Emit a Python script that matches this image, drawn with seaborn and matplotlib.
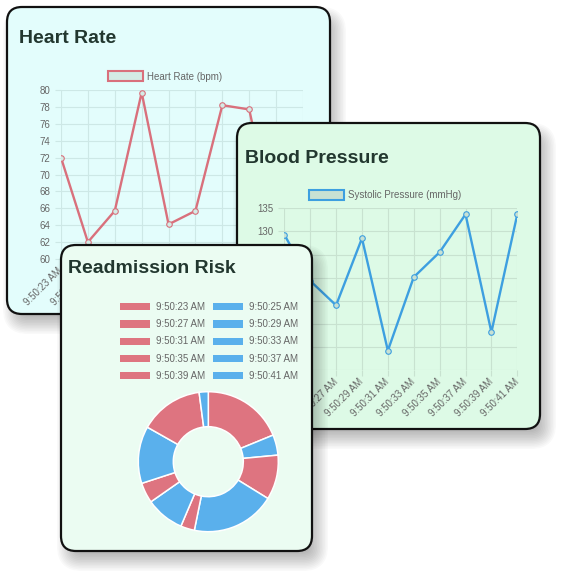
import matplotlib
matplotlib.use("Agg")
import matplotlib.pyplot as plt
import seaborn as sns
import pandas as pd
from matplotlib.patches import FancyBboxPatch, Patch
from matplotlib.transforms import Affine2D

# data
times = ["9:50:23 AM", "9:50:25 AM", "9:50:27 AM", "9:50:29 AM", "9:50:31 AM",
         "9:50:33 AM", "9:50:35 AM", "9:50:37 AM", "9:50:39 AM", "9:50:41 AM"]
heart_rate = [72.0, 62.0, 65.7, 79.7, 64.1, 65.7, 78.2, 77.7, 62.9, 70.0]
systolic = [129.3, 119.3, 114.0, 128.5, 104.2, 120.1, 125.5, 133.7, 108.2, 133.7]
risk = [18.8, 4.7, 10.3, 19.4, 3.2, 8.9, 4.7, 13.2, 14.7, 2.1]

hr_ticks = list(range(60, 81, 2))
bp_ticks = list(range(100, 136, 5))

# colours
RED = "#de7480"
BLUE = "#5ab0ec"
HR_LINE = "#d9707c"
HR_FILL = "#d4ebe5"
BP_LINE = "#3d9fe0"
BP_FILL = "#c8e1d3"
TITLE_C = "#22372f"
TEXT_C = "#666666"

W, H = 575, 586
sns.set_theme(style="white")
plt.rcParams["font.family"] = ["Liberation Sans", "DejaVu Sans"]

fig = plt.figure(figsize=(W / 100, H / 100), dpi=100)
fig.patch.set_facecolor("white")
pix = Affine2D().scale(1 / W, -1 / H).translate(0, 1) + fig.transFigure


def card(x0, y0, x1, y1, color, title, tx, ty, z):
    # soft drop shadow made of stacked rounded rects
    n, blur, dx, dy = 14, 20, 6, 10
    for k in range(n):
        e = blur * k / (n - 1) - blur / 2
        sh = FancyBboxPatch((x0 + dx - e, y0 + dy - e), x1 - x0 + 2 * e, y1 - y0 + 2 * e,
                            boxstyle=f"round,pad=0,rounding_size={max(2, 15 + e)}",
                            transform=pix, facecolor="black", edgecolor="none",
                            alpha=0.023, zorder=z)
        fig.add_artist(sh)
    p = FancyBboxPatch((x0, y0), x1 - x0, y1 - y0,
                       boxstyle="round,pad=0,rounding_size=15",
                       transform=pix, facecolor=color, edgecolor="#111111",
                       linewidth=1.6, zorder=z + 0.2)
    fig.add_artist(p)
    fig.text(tx / W, 1 - ty / H, title, fontsize=14, fontweight="bold",
             color=TITLE_C, va="baseline", ha="left", zorder=z + 0.4)


def add_axes(x0, y0, x1, y1, z):
    ax = fig.add_axes([x0 / W, 1 - y1 / H, (x1 - x0) / W, (y1 - y0) / H])
    ax.set_zorder(z)
    ax.patch.set_alpha(0)
    return ax


def style_line_axes(ax, ylim, yticks, grid_c):
    ax.set_xlim(0, len(times) - 1)
    ax.set_ylim(*ylim)
    ax.set_yticks(yticks)
    ax.set_xticks(range(len(times)))
    ax.set_xticklabels(times, rotation=45, ha="right", va="center",
                       rotation_mode="anchor")
    ax.grid(True, color=grid_c, lw=0.8, alpha=1)
    ax.set_axisbelow(True)
    for s in ax.spines.values():
        s.set_visible(False)
    ax.tick_params(bottom=True, left=True, length=4.5, width=0.8, color=grid_c,
                   labelsize=7, labelcolor=TEXT_C, pad=3)
    ax.set_xlabel("")
    ax.set_ylabel("")


def line_legend(ax, label, line, fill, cx, cy):
    ax.legend(handles=[Patch(facecolor=fill, edgecolor=line, lw=1.5, label=label)],
              loc="center", bbox_to_anchor=(cx / W, 1 - cy / H),
              bbox_transform=fig.transFigure, frameon=False, fontsize=7,
              labelcolor=TEXT_C, handlelength=3.6, handleheight=1.2,
              handletextpad=0.4, borderpad=0, borderaxespad=0)


# Heart Rate card
card(7, 7, 330, 314, "#e3fdfc", "Heart Rate", 19, 42.7, 1)
ax = add_axes(61, 90, 303, 259, 2)
df_hr = pd.DataFrame({"time": times, "bpm": heart_rate})
sns.lineplot(data=df_hr, x="time", y="bpm", ax=ax, sort=False, color=HR_LINE, lw=1.7,
             marker="o", markersize=4, markerfacecolor=HR_FILL,
             markeredgecolor=HR_LINE, markeredgewidth=0.8)
style_line_axes(ax, (60, 80), hr_ticks, "#cde8e6")
line_legend(ax, "Heart Rate (bpm)", HR_LINE, HR_FILL, 165, 76.5)

# Blood Pressure card
card(237, 123, 540, 429, "#ddfae6", "Blood Pressure", 245, 162.7, 3)
ax = add_axes(284.3, 208.3, 517.3, 370, 4)
df_bp = pd.DataFrame({"time": times, "mmHg": systolic})
sns.lineplot(data=df_bp, x="time", y="mmHg", ax=ax, sort=False, color=BP_LINE, lw=1.7,
             marker="o", markersize=4, markerfacecolor=BP_FILL,
             markeredgecolor=BP_LINE, markeredgewidth=0.8)
style_line_axes(ax, (100, 135), bp_ticks, "#c8e2d0")
line_legend(ax, "Systolic Pressure (mmHg)", BP_LINE, BP_FILL, 385.5, 195)

# Readmission Risk card
card(61, 245, 312, 551, "#ebfcf2", "Readmission Risk", 67.7, 273.3, 5)
ax = add_axes(138.3, 391.7, 278.3, 531.7, 6)
colors = [RED if i % 2 == 0 else BLUE for i in range(len(risk))]
wedges, _ = ax.pie(risk, colors=colors, startangle=90, counterclock=False, radius=1,
                   wedgeprops=dict(width=0.5, edgecolor="white", linewidth=1.1))
ax.set_xlim(-1, 1)
ax.set_ylim(-1, 1)
order = [0, 2, 4, 6, 8, 1, 3, 5, 7, 9]
handles = [Patch(facecolor=colors[i], edgecolor="none", label=times[i]) for i in order]
ax.legend(handles=handles, ncol=2, loc="center", bbox_to_anchor=(209 / W, 1 - 341.5 / H),
          bbox_transform=fig.transFigure, frameon=False, fontsize=7,
          labelcolor=TEXT_C, handlelength=3.1, handleheight=0.75, handletextpad=0.6,
          columnspacing=0.8, labelspacing=0.73, borderpad=0, borderaxespad=0)

fig.savefig("out.png", dpi=100)
